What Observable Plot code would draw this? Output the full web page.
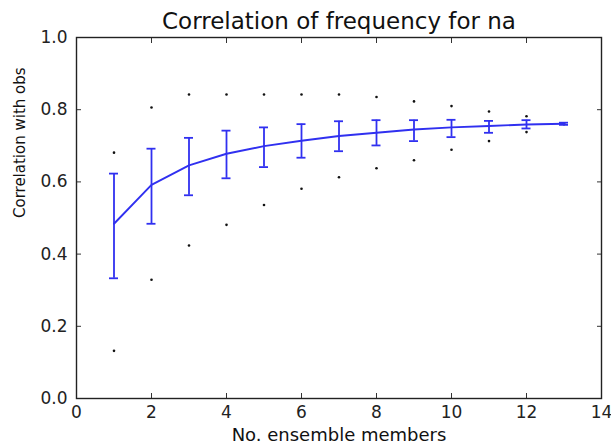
<!DOCTYPE html>
<html>
<head>
<meta charset="utf-8">
<script src="https://cdn.jsdelivr.net/npm/d3@7"></script>
<script src="https://cdn.jsdelivr.net/npm/@observablehq/plot@0.6"></script>
<style>
  html, body { margin: 0; padding: 0; background: #fff; }
  svg { font-family: "DejaVu Sans", sans-serif; }
</style>
</head>
<body>
<div id="chart"></div>
<script>
const members = [1, 2, 3, 4, 5, 6, 7, 8, 9, 10, 11, 12, 13];
const meanCorr = [0.484, 0.592, 0.646, 0.678, 0.699, 0.714, 0.727, 0.736, 0.745, 0.751, 0.755, 0.759, 0.761];
const lowerErr = [0.333, 0.484, 0.563, 0.610, 0.641, 0.667, 0.685, 0.701, 0.713, 0.724, 0.736, 0.748, 0.758];
const upperErr = [0.623, 0.692, 0.722, 0.742, 0.751, 0.760, 0.768, 0.771, 0.771, 0.772, 0.769, 0.771, 0.764];
const maxCorr = [0.681, 0.806, 0.842, 0.842, 0.842, 0.842, 0.842, 0.835, 0.823, 0.810, 0.795, 0.782, 0.762];
const minCorr = [0.132, 0.329, 0.424, 0.481, 0.536, 0.581, 0.613, 0.638, 0.660, 0.689, 0.713, 0.738, 0.760];
const xTicks = [0, 2, 4, 6, 8, 10, 12, 14];
const yTicks = [0.0, 0.2, 0.4, 0.6, 0.8, 1.0];
const titleText = "Correlation of frequency for na";
const xLabel = "No. ensemble members";
const yLabel = "Correlation with obs";

const data = members.map((m, i) => ({
  x: m, mean: meanCorr[i], lo: lowerErr[i], hi: upperErr[i], max: maxCorr[i], min: minCorr[i]
}));
const extremes = data.flatMap(d => [{x: d.x, v: d.max}, {x: d.x, v: d.min}]);
const capHalf = 0.12;
const blue = "#3030f0";

const chart = Plot.plot({
  width: 611,
  height: 445,
  marginTop: 37,
  marginLeft: 76,
  marginRight: 10,
  marginBottom: 47,
  style: {fontFamily: "DejaVu Sans, sans-serif", background: "#fff", color: "#222"},
  x: {domain: [0, 14]},
  y: {domain: [0, 1]},
  marks: [
    // tick labels
    Plot.axisX({anchor: "bottom", ticks: xTicks, tickSize: 0, tickPadding: 7, fontSize: 17, label: null, tickFormat: d3.format("d"), fill: "#222"}),
    Plot.axisY({anchor: "left", ticks: yTicks, tickSize: 0, tickPadding: 9, fontSize: 17, label: null, tickFormat: d3.format(".1f"), fill: "#222"}),
    // inward ticks on all sides
    Plot.axisX({anchor: "bottom", ticks: xTicks, tickSize: -5, tickFormat: () => "", label: null, stroke: "#333"}),
    Plot.axisX({anchor: "top", ticks: xTicks, tickSize: -5, tickFormat: () => "", label: null, stroke: "#333"}),
    Plot.axisY({anchor: "left", ticks: yTicks, tickSize: -5, tickFormat: () => "", label: null, stroke: "#333"}),
    Plot.axisY({anchor: "right", ticks: yTicks, tickSize: -5, tickFormat: () => "", label: null, stroke: "#333"}),
    Plot.frame({stroke: "#222", strokeWidth: 1.4}),
    // min / max dots
    Plot.dot(extremes, {x: "x", y: "v", r: 1.3, fill: "#111", stroke: null}),
    // error bars
    Plot.ruleX(data, {x: "x", y1: "lo", y2: "hi", stroke: blue, strokeWidth: 1.8}),
    Plot.ruleY(data, {y: "lo", x1: d => d.x - capHalf, x2: d => d.x + capHalf, stroke: blue, strokeWidth: 1.8}),
    Plot.ruleY(data, {y: "hi", x1: d => d.x - capHalf, x2: d => d.x + capHalf, stroke: blue, strokeWidth: 1.8}),
    // mean line
    Plot.line(data, {x: "x", y: "mean", stroke: blue, strokeWidth: 1.9}),
    // title and axis labels
    Plot.text([titleText], {frameAnchor: "top", lineAnchor: "middle", dy: -16, fontSize: 23, fill: "#111"}),
    Plot.text([xLabel], {frameAnchor: "bottom", lineAnchor: "middle", dy: 37, fontSize: 18, fill: "#111"}),
    Plot.text([yLabel], {frameAnchor: "left", rotate: -90, dx: -56, fontSize: 15, fill: "#111"})
  ]
});
document.getElementById("chart").appendChild(chart);
</script>
</body>
</html>
